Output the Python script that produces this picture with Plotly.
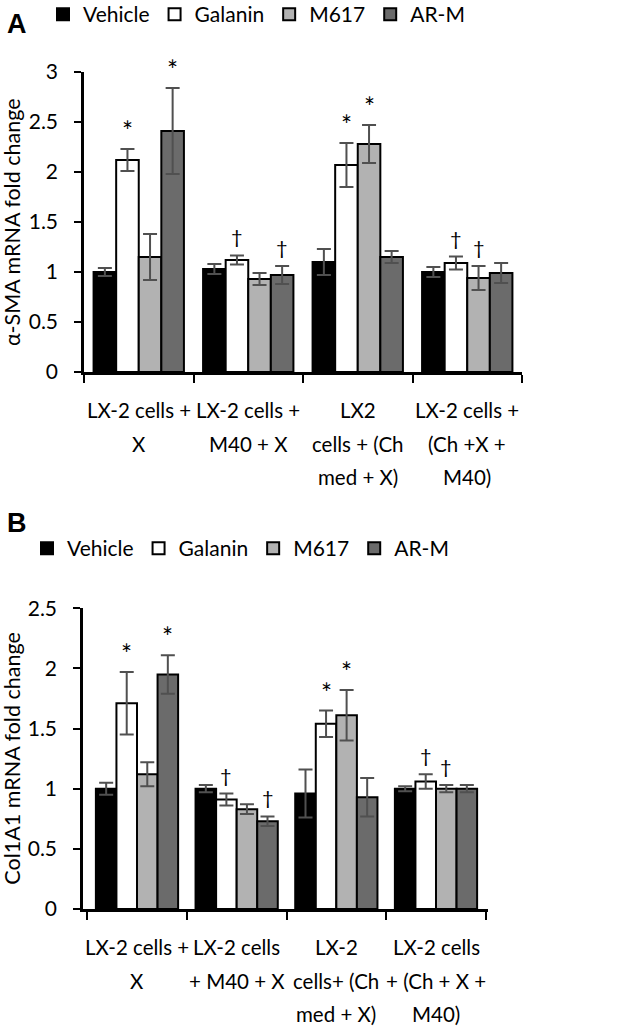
import plotly.graph_objects as go

series = ["Vehicle", "Galanin", "M617", "AR-M"]
colors = ["#000000", "#ffffff", "#b2b2b2", "#6b6b6b"]

cats_A = ["A1", "A2", "A3", "A4"]
labels_A = [["LX-2 cells +", "X"], ["LX-2 cells +", "M40 + X"],
            ["LX2", "cells + (Ch", "med + X)"], ["LX-2 cells +", "(Ch +X +", "M40)"]]
vals_A = {
    "Vehicle": [1.00, 1.03, 1.10, 1.00],
    "Galanin": [2.12, 1.12, 2.07, 1.09],
    "M617":    [1.15, 0.93, 2.28, 0.94],
    "AR-M":    [2.41, 0.97, 1.15, 0.99],
}
err_A = {
    "Vehicle": [0.04, 0.05, 0.13, 0.05],
    "Galanin": [0.11, 0.045, 0.22, 0.065],
    "M617":    [0.23, 0.06, 0.19, 0.12],
    "AR-M":    [0.43, 0.09, 0.06, 0.10],
}
sig_A = [("Galanin", 0, "*"), ("AR-M", 0, "*"), ("Galanin", 2, "*"), ("M617", 2, "*"),
         ("Galanin", 1, "†"), ("AR-M", 1, "†"), ("Galanin", 3, "†"), ("M617", 3, "†")]

cats_B = ["B1", "B2", "B3", "B4"]
labels_B = [["LX-2 cells +", "X"], ["LX-2 cells", "+ M40 + X"],
            ["LX-2", "cells+ (Ch", "med + X)"], ["LX-2 cells", "+ (Ch + X +", "M40)"]]
vals_B = {
    "Vehicle": [1.00, 1.00, 0.96, 1.00],
    "Galanin": [1.71, 0.91, 1.54, 1.06],
    "M617":    [1.12, 0.83, 1.61, 1.00],
    "AR-M":    [1.95, 0.73, 0.93, 1.00],
}
err_B = {
    "Vehicle": [0.05, 0.03, 0.20, 0.02],
    "Galanin": [0.26, 0.05, 0.11, 0.06],
    "M617":    [0.10, 0.04, 0.21, 0.03],
    "AR-M":    [0.16, 0.04, 0.16, 0.03],
}
sig_B = [("Galanin", 0, "*"), ("AR-M", 0, "*"), ("Galanin", 2, "*"), ("M617", 2, "*"),
         ("Galanin", 1, "†"), ("AR-M", 1, "†"), ("Galanin", 3, "†"), ("M617", 3, "†")]

FONT = "Lato"
BARGAP = 0.175
W, H = 630, 1028


def px(x):
    return x / W


def py(y):
    return 1 - y / H


fig = go.Figure()

for panel, cats, vals, errs, xa, ya, leg in [
    ("A", cats_A, vals_A, err_A, "x", "y", "legend"),
    ("B", cats_B, vals_B, err_B, "x2", "y2", "legend2"),
]:
    for s, c in zip(series, colors):
        fig.add_trace(go.Bar(
            x=cats, y=vals[s], name=s, xaxis=xa, yaxis=ya, legend=leg,
            marker=dict(color=c, line=dict(color="#000000", width=2)),
            error_y=dict(type="data", array=errs[s], visible=True,
                         color="#505050", thickness=2, width=7),
        ))

fig.update_layout(
    width=W, height=H,
    margin=dict(l=0, r=0, t=0, b=0, autoexpand=False),
    paper_bgcolor="white", plot_bgcolor="white",
    barmode="group", bargap=BARGAP,
    font=dict(family=FONT, size=21, color="black"),
    showlegend=True,
    legend=dict(orientation="h", x=px(43), xanchor="left", y=py(-6), yanchor="top",
                font=dict(size=21), itemwidth=30, tracegroupgap=0,
                bgcolor="rgba(0,0,0,0)"),
    legend2=dict(orientation="h", x=px(27), xanchor="left", y=py(528), yanchor="top",
                 font=dict(size=21), itemwidth=30, tracegroupgap=0,
                 bgcolor="rgba(0,0,0,0)"),
)

axis_common = dict(showline=True, linecolor="black", linewidth=2.5, showgrid=False,
                   zeroline=False, ticks="outside", tickcolor="black", tickwidth=2,
                   mirror=False)

fig.update_layout(
    xaxis=dict(domain=[px(84), px(522)], anchor="y", showticklabels=False,
               tickson="boundaries", ticklen=8, **axis_common),
    yaxis=dict(domain=[py(372), py(72)], anchor="x", range=[0, 3],
               dtick=0.5, ticklen=7, ticklabelstandoff=12, **axis_common),
    xaxis2=dict(domain=[px(83), px(488)], anchor="y2", showticklabels=False,
                tickson="boundaries", ticklen=8, **axis_common),
    yaxis2=dict(domain=[py(909), py(608.3)], anchor="x2", range=[0, 2.5],
                dtick=0.5, ticklen=7, ticklabelstandoff=12, **axis_common),
)

annotations = []
gw = 1 - BARGAP
bw = gw / len(series)
for cats, labels, vals, errs, sigs, xr, yr in [
    (cats_A, labels_A, vals_A, err_A, sig_A, "x", "y"),
    (cats_B, labels_B, vals_B, err_B, sig_B, "x2", "y2"),
]:
    # category labels, one annotation per line
    for i, lines in enumerate(labels):
        for k, line in enumerate(lines):
            annotations.append(dict(
                x=cats[i], y=0, xref=xr, yref=yr, text=line, showarrow=False,
                xanchor="center", yanchor="middle", yshift=-(38 + 33.5 * k),
                font=dict(size=20.5, family=FONT, color="black"),
            ))
    # significance marks
    for s, ci, sym in sigs:
        j = series.index(s)
        xpos = ci - gw / 2 + (j + 0.5) * bw
        top = vals[s][ci] + errs[s][ci]
        annotations.append(dict(
            x=xpos, y=top, xref=xr, yref=yr, text=sym, showarrow=False,
            xanchor="center", yanchor="bottom", yshift=(0 if sym == "*" else 5),
            font=dict(size=26 if sym == "*" else 20, family=FONT, color="black"),
        ))

# y-axis titles
annotations.append(dict(x=px(12), y=(py(372) + py(72)) / 2, xref="paper", yref="paper",
                        text="α-SMA mRNA fold change", textangle=-90, showarrow=False,
                        xanchor="center", yanchor="middle",
                        font=dict(size=21.5, family=FONT, color="black")))
annotations.append(dict(x=px(12), y=(py(909) + py(608.3)) / 2, xref="paper", yref="paper",
                        text="Col1A1 mRNA fold change", textangle=-90, showarrow=False,
                        xanchor="center", yanchor="middle",
                        font=dict(size=21.5, family=FONT, color="black")))

# panel letters
annotations.append(dict(x=px(5), y=py(24), xref="paper", yref="paper", text="<b>A</b>",
                        showarrow=False, xanchor="left", yanchor="middle",
                        font=dict(size=27, family="Liberation Sans", color="black")))
annotations.append(dict(x=px(5), y=py(523), xref="paper", yref="paper", text="<b>B</b>",
                        showarrow=False, xanchor="left", yanchor="middle",
                        font=dict(size=27, family="Liberation Sans", color="black")))

fig.update_layout(annotations=annotations)

fig.write_html("out.html", config={"displayModeBar": False},
               post_script="document.body.style.margin='0';")
